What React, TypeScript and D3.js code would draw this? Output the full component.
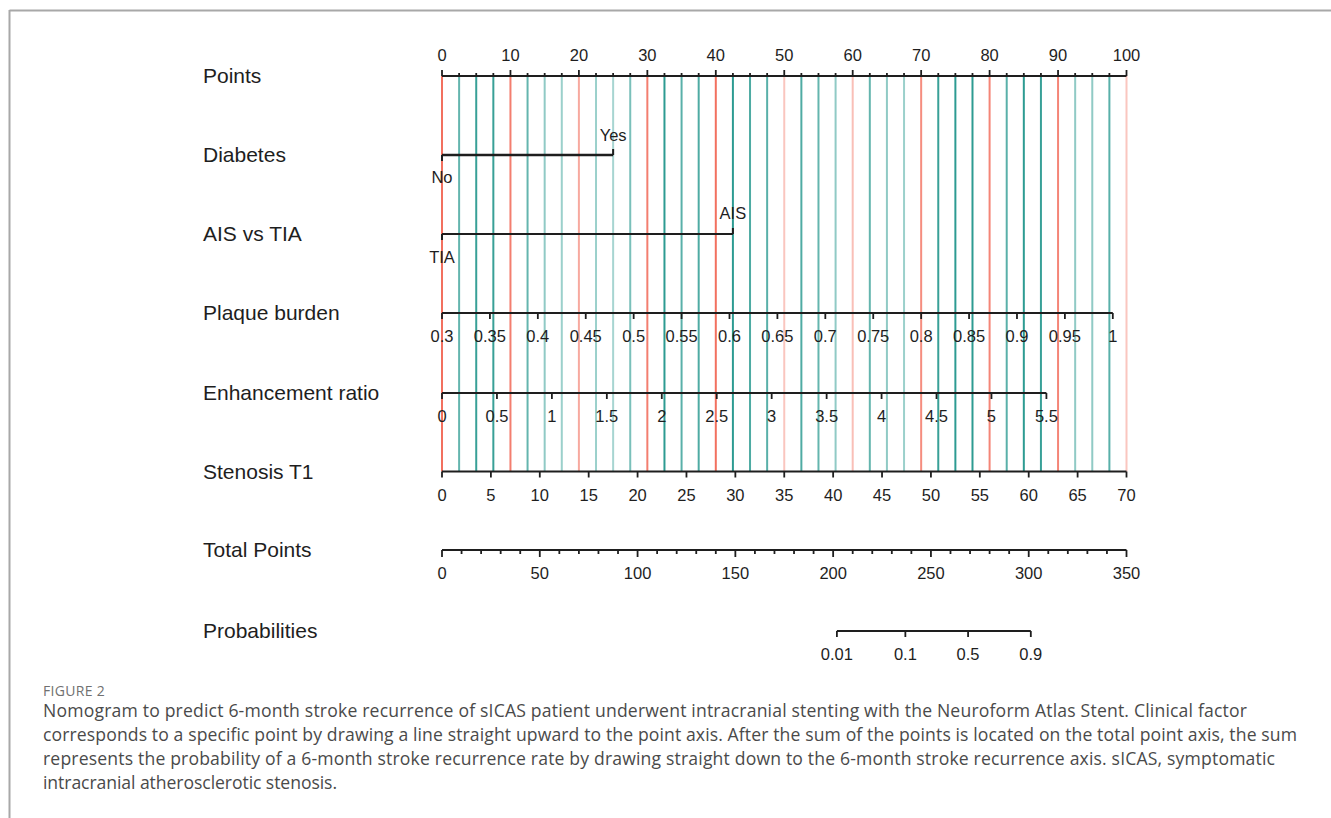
import React from "react";
import * as d3 from "d3";

// ---- nomogram data ----
const pointTicks = [0, 10, 20, 30, 40, 50, 60, 70, 80, 90, 100];
const pointMinor = [0, 2.5, 5, 7.5, 10, 12.5, 15, 17.5, 20, 22.5, 25, 27.5, 30, 32.5, 35, 37.5, 40, 42.5, 45, 47.5, 50,
  52.5, 55, 57.5, 60, 62.5, 65, 67.5, 70, 72.5, 75, 77.5, 80, 82.5, 85, 87.5, 90, 92.5, 95, 97.5, 100];

const diabetesLevels = ["No", "Yes"];
const diabetesPoints = [0, 25];

const strokeLevels = ["TIA", "AIS"];
const strokePoints = [0, 42.5];

const plaqueTicks = [0.3, 0.35, 0.4, 0.45, 0.5, 0.55, 0.6, 0.65, 0.7, 0.75, 0.8, 0.85, 0.9, 0.95, 1];
const plaqueRange = [0.3, 1];
const plaquePointRange = [0, 98];

const enhanceTicks = [0, 0.5, 1, 1.5, 2, 2.5, 3, 3.5, 4, 4.5, 5, 5.5];
const enhanceRange = [0, 5.5];
const enhancePointRange = [0, 88.3];

const stenosisTicks = [0, 5, 10, 15, 20, 25, 30, 35, 40, 45, 50, 55, 60, 65, 70];
const stenosisRange = [0, 70];
const stenosisPointRange = [0, 100];

const totalTicks = [0, 50, 100, 150, 200, 250, 300, 350];
const totalMinor = [0, 10, 20, 30, 40, 50, 60, 70, 80, 90, 100, 110, 120, 130, 140, 150, 160, 170, 180, 190, 200,
  210, 220, 230, 240, 250, 260, 270, 280, 290, 300, 310, 320, 330, 340, 350];

const probTicks = [0.01, 0.1, 0.5, 0.9];
// logistic model: linear predictor = slope * (total - center)
const probCenter = 269;
const probSlope = 0.0685;

const rowLabels = ["Points", "Diabetes", "AIS vs TIA", "Plaque burden", "Enhancement ratio", "Stenosis T1", "Total Points", "Probabilities"];

const captionHead = "FIGURE 2";
const captionLines = [
  "Nomogram to predict 6-month stroke recurrence of sICAS patient underwent intracranial stenting with the Neuroform Atlas Stent. Clinical factor",
  "corresponds to a specific point by drawing a line straight upward to the point axis. After the sum of the points is located on the total point axis, the sum",
  "represents the probability of a 6-month stroke recurrence rate by drawing straight down to the 6-month stroke recurrence axis. sICAS, symptomatic",
  "intracranial atherosclerotic stenosis.",
];

// ---- styling ----
const gridOpacity = [1, 0.7, 0.9, 0.9, 0.9, 0.7, 0.5, 0.45, 0.6, 0.45, 0.4, 0.6, 0.9, 0.95, 0.75, 0.8, 1, 0.95, 0.8, 0.75, 0.4,
  0.8, 0.7, 0.5, 0.45, 0.7, 0.5, 0.45, 0.8, 0.9, 0.95, 0.95, 0.85, 0.75, 0.95, 0.9, 0.85, 0.5, 0.5, 0.75, 0.4];
const captionWidths = [1204, 1254, 1232, 294];
const RED = "#f2705f";
const TEAL = "#22968c";
const INK = "#1e1e1e";
const FONT = "'Liberation Sans', Arial, sans-serif";
const CAPTION_FONT = "'Open Sans', 'Noto Sans', sans-serif";

const X0 = 442;
const X1 = 1126.5;
const rowY = [76, 155, 234, 313, 393, 471.5, 550, 631];
const labelX = 203;

export default function App() {
  const px = d3.scaleLinear().domain([0, 100]).range([X0, X1]);
  const tx = d3.scaleLinear().domain([0, 350]).range([X0, X1]);
  const plaque = d3.scaleLinear().domain(plaqueRange).range(plaquePointRange);
  const enhance = d3.scaleLinear().domain(enhanceRange).range(enhancePointRange);
  const stenosis = d3.scaleLinear().domain(stenosisRange).range(stenosisPointRange);
  const probToTotal = (p: number) => probCenter + Math.log(p / (1 - p)) / probSlope;
  const fmt = (v: number) => String(v);

  const tickFont = 16.5;

  // horizontal axis with downward ticks and labels below
  const downAxis = (key: string, y: number, xs: number[], labels: string[], x0: number, x1: number, tick = 6) => (
    <g key={key}>
      <line x1={x0} x2={x1} y1={y} y2={y} stroke={INK} strokeWidth={2} />
      {xs.map((x, i) => (
        <g key={i}>
          <line x1={x} x2={x} y1={y} y2={y + tick} stroke={INK} strokeWidth={1.8} />
          <text x={x} y={y + 29} textAnchor="middle" fontSize={tickFont} fill={INK} fontFamily={FONT}>{labels[i]}</text>
        </g>
      ))}
    </g>
  );

  return (
    <svg width={1331} height={818} style={{ position: "absolute", left: 0, top: 0, background: "#fff" }}>
      {/* frame */}
      <line x1={9.5} x2={9.5} y1={10} y2={818} stroke="#a8a8a8" strokeWidth={2} />
      <line x1={9.5} x2={1331} y1={10.5} y2={10.5} stroke="#a8a8a8" strokeWidth={2} />

      {/* reference grid lines */}
      {pointMinor.map((p, i) => (
        <line key={"g" + i} x1={px(p)} x2={px(p)} y1={rowY[0]} y2={rowY[5]}
          stroke={p % 10 === 0 ? RED : TEAL} strokeOpacity={gridOpacity[i]} strokeWidth={2} />
      ))}

      {/* row labels */}
      {rowLabels.map((l, i) => (
        <text key={l} x={labelX} y={rowY[i] + 7} fontSize={21} fill={INK} fontFamily={FONT}>{l}</text>
      ))}

      {/* Points axis */}
      <line x1={X0} x2={X1} y1={rowY[0]} y2={rowY[0]} stroke={INK} strokeWidth={2} />
      {pointMinor.map((p, i) => (
        <line key={"pm" + i} x1={px(p)} x2={px(p)} y1={rowY[0]} y2={rowY[0] - (p % 10 === 0 ? 6 : 3)} stroke={INK} strokeWidth={1.8} />
      ))}
      {pointTicks.map((p) => (
        <text key={"pt" + p} x={px(p)} y={rowY[0] - 15} textAnchor="middle" fontSize={tickFont} fill={INK} fontFamily={FONT}>{fmt(p)}</text>
      ))}

      {/* Diabetes */}
      <g>
        <line x1={px(diabetesPoints[0])} x2={px(diabetesPoints[1])} y1={rowY[1]} y2={rowY[1]} stroke={INK} strokeWidth={2.4} />
        <line x1={px(diabetesPoints[0])} x2={px(diabetesPoints[0])} y1={rowY[1]} y2={rowY[1] + 6} stroke={INK} strokeWidth={2} />
        <line x1={px(diabetesPoints[1])} x2={px(diabetesPoints[1])} y1={rowY[1]} y2={rowY[1] - 6} stroke={INK} strokeWidth={2} />
        <text x={px(diabetesPoints[0])} y={rowY[1] + 28} textAnchor="middle" fontSize={tickFont} fill={INK} fontFamily={FONT}>{diabetesLevels[0]}</text>
        <text x={px(diabetesPoints[1])} y={rowY[1] - 14} textAnchor="middle" fontSize={tickFont} fill={INK} fontFamily={FONT}>{diabetesLevels[1]}</text>
      </g>

      {/* AIS vs TIA */}
      <g>
        <line x1={px(strokePoints[0])} x2={px(strokePoints[1])} y1={rowY[2]} y2={rowY[2]} stroke={INK} strokeWidth={1.8} />
        <line x1={px(strokePoints[0])} x2={px(strokePoints[0])} y1={rowY[2]} y2={rowY[2] + 6} stroke={INK} strokeWidth={2} />
        <line x1={px(strokePoints[1])} x2={px(strokePoints[1])} y1={rowY[2]} y2={rowY[2] - 6} stroke={INK} strokeWidth={2} />
        <text x={px(strokePoints[0])} y={rowY[2] + 29} textAnchor="middle" fontSize={tickFont} fill={INK} fontFamily={FONT}>{strokeLevels[0]}</text>
        <text x={px(strokePoints[1])} y={rowY[2] - 15} textAnchor="middle" fontSize={tickFont} fill={INK} fontFamily={FONT}>{strokeLevels[1]}</text>
      </g>

      {downAxis("plaque", rowY[3], plaqueTicks.map((v) => px(plaque(v))), plaqueTicks.map(fmt), px(plaque(plaqueRange[0])), px(plaque(plaqueRange[1])))}
      {downAxis("enh", rowY[4], enhanceTicks.map((v) => px(enhance(v))), enhanceTicks.map(fmt), px(enhance(enhanceRange[0])), px(enhance(enhanceRange[1])))}
      {downAxis("sten", rowY[5], stenosisTicks.map((v) => px(stenosis(v))), stenosisTicks.map(fmt), px(stenosis(stenosisRange[0])), px(stenosis(stenosisRange[1])))}

      {/* Total points axis */}
      <line x1={tx(0)} x2={tx(350)} y1={rowY[6]} y2={rowY[6]} stroke={INK} strokeWidth={2} />
      {totalMinor.map((t) => (
        <line key={"tm" + t} x1={tx(t)} x2={tx(t)} y1={rowY[6]} y2={rowY[6] + (t % 50 === 0 ? 7 : 4)} stroke={INK} strokeWidth={1.8} />
      ))}
      {totalTicks.map((t) => (
        <text key={"tt" + t} x={tx(t)} y={rowY[6] + 29} textAnchor="middle" fontSize={tickFont} fill={INK} fontFamily={FONT}>{fmt(t)}</text>
      ))}

      {/* Probabilities */}
      {downAxis("prob", rowY[7], probTicks.map((p) => tx(probToTotal(p))), probTicks.map(fmt),
        tx(probToTotal(probTicks[0])), tx(probToTotal(probTicks[probTicks.length - 1])))}

      {/* caption */}
      <text x={43} y={696} fontSize={14} letterSpacing={0.3} fill="#707070" fontFamily={CAPTION_FONT}>{captionHead}</text>
      {captionLines.map((l, i) => (
        <text key={i} x={43} y={717 + i * 24} fontSize={17.6} fill="#4a4a4a" fontFamily={CAPTION_FONT}
          textLength={captionWidths[i]} lengthAdjust="spacing">{l}</text>
      ))}
    </svg>
  );
}
